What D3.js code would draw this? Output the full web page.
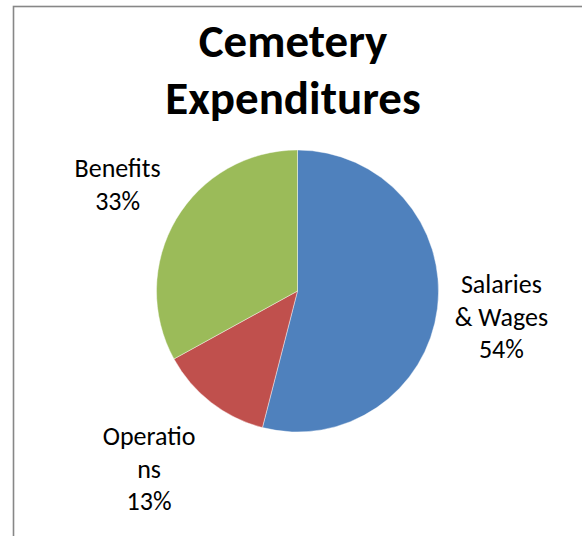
<!DOCTYPE html>
<html>
<head>
<meta charset="utf-8">
<script src="https://cdn.jsdelivr.net/npm/d3@7"></script>
<style>
  html, body { margin: 0; padding: 0; background: #fff; }
  svg { display: block; }
  text { font-family: Calibri, Carlito, Lato, "Open Sans", sans-serif; fill: #000; }
</style>
</head>
<body>
<script>
// chart data
var categories = ["Salaries & Wages", "Operations", "Benefits"];
var values = [54, 13, 33];
var labelLines = [["Salaries", "& Wages"], ["Operatio", "ns"], ["Benefits"]];
var colors = ["#4F81BD", "#C0504D", "#9BBB59"];
var titleLines = ["Cemetery", "Expenditures"];

function main(){
    var width = 582, height = 536;
    var cx = 297.5, cy = 291, radius = 141;
    // small hand tweak of label placement, the way Excel ended up with it
    var labelNudge = [[0, 0], [-13, 3], [0, 0]];

    var svg = d3.select('body')
        .append('svg')
        .attr('width', width)
        .attr('height', height);

    // chart border (runs off the right and bottom edge)
    svg.append('rect')
        .attr('x', 13.5)
        .attr('y', 6.5)
        .attr('width', 700)
        .attr('height', 700)
        .attr('fill', 'none')
        .attr('stroke', '#878787')
        .attr('stroke-width', 1.6);

    // title
    svg.append('text')
        .attr('text-anchor', 'middle')
        .style('font-size', '47px')
        .style('font-weight', 'bold')
        .selectAll('tspan')
        .data(titleLines)
        .join('tspan')
        .attr('x', 293)
        .attr('y', function(d, i){ return 57 + i * 57; })
        .text(function(d){ return d; });

    var pie = d3.pie().sort(null).value(function(d){ return d; });
    var arcs = pie(values);
    var arc = d3.arc().innerRadius(0).outerRadius(radius);

    var g = svg.append('g').attr('transform', 'translate(' + cx + ',' + cy + ')');

    g.selectAll('path')
        .data(arcs)
        .join('path')
        .attr('d', arc)
        .attr('fill', function(d, i){ return colors[i]; })
        .attr('stroke', '#ffffff')
        .attr('stroke-opacity', 0.6)
        .attr('stroke-width', 0.7);

    // labels: pushed out along the mid angle until the text box clears the pie
    var lineH = 32.5, gap = 16;
    var labels = g.selectAll('g.label')
        .data(arcs)
        .join('g')
        .attr('class', 'label');

    labels.each(function(d, i){
        var sel = d3.select(this);
        var lines = labelLines[i].concat([values[i] + '%']);
        var t = sel.append('text')
            .attr('text-anchor', 'middle')
            .style('font-size', '26px');
        t.selectAll('tspan')
            .data(lines)
            .join('tspan')
            .attr('x', 0)
            .attr('y', function(l, k){ return (k - (lines.length - 1) / 2) * lineH + 9; })
            .text(function(l){ return l; });

        var w = t.node().getBBox().width;
        var h = lines.length * lineH - 8;
        var mid = (d.startAngle + d.endAngle) / 2;
        var ux = Math.sin(mid), uy = -Math.cos(mid);
        var dist = radius;
        for (var s = radius; s < 400; s += 0.5){
            var bx = ux * s, by = uy * s;
            var nx = Math.max(bx - w / 2, Math.min(0, bx + w / 2));
            var ny = Math.max(by - h / 2, Math.min(0, by + h / 2));
            if (Math.sqrt(nx * nx + ny * ny) >= radius + gap){ dist = s; break; }
        }
        sel.attr('transform', 'translate(' + (ux * dist + labelNudge[i][0]) + ',' + (uy * dist + labelNudge[i][1]) + ')');
    });
}

main();
</script>
</body>
</html>
